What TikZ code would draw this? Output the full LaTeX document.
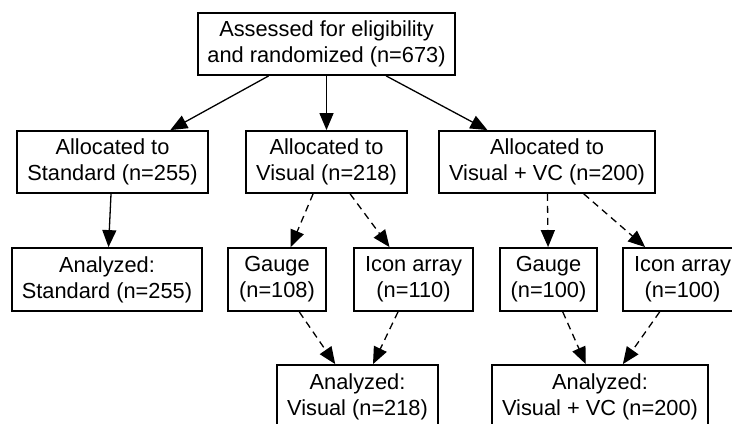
\documentclass[tikz,border=0pt]{standalone}
\usepackage{fontspec}
\setmainfont{Liberation Sans}
\usetikzlibrary{arrows.meta}

\begin{document}
\begin{tikzpicture}[x=0.5pt, y=-0.5pt,
		box/.style={draw, line width=0.9pt, align=center, inner sep=0pt, minimum height=31pt, font=\fontsize{10.9}{13}\selectfont},
		link/.style={-{Triangle[length=8.5pt, width=7pt]}, line width=0.65pt},
		optlink/.style={link, dash pattern=on 3.5pt off 2.5pt}]
		\useasboundingbox (0, 0) rectangle (732, 423);
		\clip (0, 0) rectangle (732, 423);
		
		\node[box, minimum width=128.5pt] (assessed) at (326.5, 44) {Assessed for eligibility\\and randomized (n=673)};
		
		\node[box, minimum width=95.5pt] (allocstd) at (112.5, 162) {Allocated to\\Standard (n=255)};
		\node[box, minimum width=80.5pt] (allocvis) at (326.5, 162) {Allocated to\\Visual (n=218)};
		\node[box, minimum width=108pt] (allocvc) at (547, 162) {Allocated to\\Visual + VC (n=200)};
		
		\node[box, minimum width=95pt, minimum height=31.5pt] (anastd) at (107, 279.5) {Analyzed:\\Standard (n=255)};
		\node[box, minimum width=49pt, minimum height=31.5pt] (gaugevis) at (277, 279.5) {Gauge\\(n=108)};
		\node[box, minimum width=59.5pt, minimum height=31.5pt] (iconvis) at (413.5, 279.5) {Icon array\\(n=110)};
		\node[box, minimum width=48.5pt, minimum height=31.5pt] (gaugevc) at (548.5, 279.5) {Gauge\\(n=100)};
		\node[box, minimum width=59.5pt, minimum height=31.5pt] (iconvc) at (682.5, 279.5) {Icon array\\(n=100)};
		
		\node[box, minimum width=80.5pt, minimum height=31.5pt] (anavis) at (357.5, 396.5) {Analyzed:\\Visual (n=218)};
		\node[box, minimum width=108pt, minimum height=31.5pt] (anavc) at (600, 396.5) {Analyzed:\\Visual + VC (n=200)};
		
		\draw[link] (assessed) -- (allocstd);
		\draw[link] (assessed) -- (allocvis);
		\draw[link] (assessed) -- (allocvc);
		\draw[link] (allocstd) -- (anastd);
		
		\draw[optlink] (allocvis) -- (gaugevis);
		\draw[optlink] (allocvis) -- (iconvis);
		\draw[optlink] (allocvc) -- (gaugevc);
		\draw[optlink] (allocvc) -- (iconvc);
		
		\draw[optlink] (gaugevis) -- (anavis);
		\draw[optlink] (iconvis) -- (anavis);
		\draw[optlink] (gaugevc) -- (anavc);
		\draw[optlink] (iconvc) -- (anavc);
	\end{tikzpicture}
\end{document}
